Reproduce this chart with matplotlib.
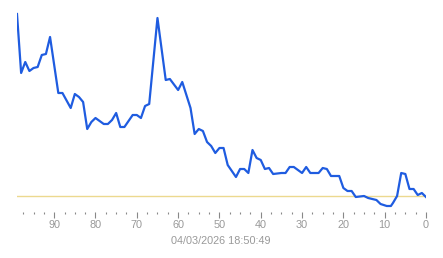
import numpy as np
import matplotlib.pyplot as plt
from matplotlib.ticker import MultipleLocator

# values (baseline at 0)
age = [99, 98, 97, 96, 95, 94, 93, 92, 91, 89, 88, 86, 85, 84, 83, 82, 81, 80,
       78, 77, 76, 75, 74, 73, 71, 70, 69, 68, 67, 65, 63, 62, 60, 59, 57, 56,
       55, 54, 53, 52, 51, 50, 49, 48, 46, 45, 44, 43, 42, 41, 40, 39, 38, 37,
       35, 34, 33, 32, 30, 29, 28, 26, 25, 24, 23, 21, 20, 19, 18, 17, 15, 14,
       13, 12, 11, 9.5, 8.5, 8, 7, 6, 5, 4, 3, 2, 1, 0]
value = [182, 123, 134, 125, 128, 129, 141, 142, 159, 103, 103, 88, 102, 99, 94, 67, 74, 78,
         72, 72, 76, 83, 69, 69, 81, 81, 78, 90, 92, 178, 116, 117, 106, 114, 88, 62,
         67, 65, 54, 50, 43, 48, 48, 31, 19, 27, 27, 23, 46, 38, 36, 27, 28, 22,
         23, 23, 29, 29, 23, 29, 23, 23, 28, 27, 20, 20, 8, 5, 5, -1, 0, -2,
         -3, -4, -8, -10, -10, -7, 0, 23, 22, 7, 7, 1, 3, -1]
baseline = 0
date_label = "04/03/2026 18:50:49"

plt.rcParams['font.family'] = ['Liberation Sans', 'DejaVu Sans']

fig = plt.figure(figsize=(4.43, 2.58), dpi=100)
ax = fig.add_axes([17 / 443, 46 / 258, 409 / 443, 202 / 258])

ax.axhline(baseline, color='#ecd98f', lw=1.0, zorder=1)
ax.plot(age, value, color='#1f5ce0', lw=1.6, solid_joinstyle='round', zorder=2)

ax.set_xlim(99, 0)
ax.set_ylim(-16, 186)
for s in ax.spines.values():
    s.set_visible(False)
ax.set_yticks([])
ax.xaxis.set_major_locator(MultipleLocator(10))
ax.xaxis.set_minor_locator(MultipleLocator(2.5))
ax.tick_params(axis='x', which='major', length=4, width=0.8, color='#888888',
               labelcolor='#999999', labelsize=7.8, pad=2)
ax.tick_params(axis='x', which='minor', length=1.2, width=0.8, color='#888888')

fig.text(221 / 443, 1 - 241 / 258, date_label, ha='center', va='center',
         color='#999999', fontsize=7.8)

fig.savefig('out.png', dpi=100)
